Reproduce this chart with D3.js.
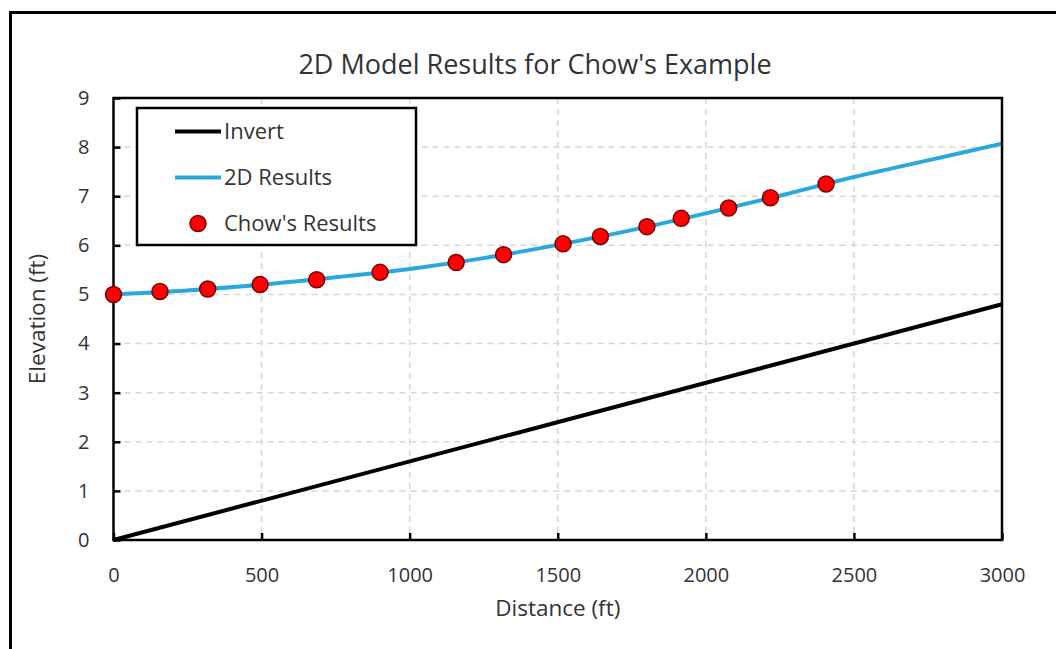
<!DOCTYPE html>
<html lang="en">
<head>
    <meta charset="UTF-8">
    <title>2D Model Results for Chow's Example</title>
    <script src="https://cdn.jsdelivr.net/npm/d3@7"></script>
    <style>
        body { margin: 0; background: #fff; }
        text { font-family: "Open Sans", "Noto Sans", sans-serif; fill: #333; }
    </style>
</head>
<body>
<svg width="1056" height="649"></svg>
<script>
    // data
    var invertDist = [0, 3000];
    var invertElev = [0, 4.8];

    var resultDist = [0, 250, 500, 750, 1000, 1250, 1500, 1750, 2000, 2250, 2500, 2750, 3000];
    var resultElev = [5.00, 5.08, 5.20, 5.35, 5.52, 5.74, 6.01, 6.31, 6.65, 7.01, 7.39, 7.73, 8.07];

    var chowDist = [0, 157, 318, 495, 686, 900, 1157, 1317, 1518, 1644, 1801, 1917, 2077, 2218, 2406];
    var chowElev = [5.00, 5.06, 5.11, 5.20, 5.30, 5.45, 5.65, 5.81, 6.03, 6.18, 6.38, 6.55, 6.76, 6.97, 7.25];

    var xTicks = [0, 500, 1000, 1500, 2000, 2500, 3000];
    var yTicks = [0, 1, 2, 3, 4, 5, 6, 7, 8, 9];

    var legendNames = ["Invert", "2D Results", "Chow's Results"];

    var svg = d3.select('svg'),
        plot = {left: 113.5, top: 98, right: 1002, bottom: 540};

    var x = d3.scaleLinear().domain([0, 3000]).range([plot.left, plot.right]);
    var y = d3.scaleLinear().domain([0, 9]).range([plot.bottom, plot.top]);

    // outer chart border (runs off the right and bottom of the picture)
    svg.append('rect')
        .attr('x', 10.5).attr('y', 12.5)
        .attr('width', 1100).attr('height', 700)
        .attr('fill', '#fff')
        .attr('stroke', '#000')
        .attr('stroke-width', 3);

    // grid
    var grid = svg.append('g')
        .attr('stroke', '#d6d6d6')
        .attr('stroke-width', 1.5)
        .attr('stroke-dasharray', '6,5');
    grid.selectAll('.gx')
        .data(xTicks.slice(1, -1))
        .enter().append('line')
        .attr('x1', function(d){ return x(d); }).attr('x2', function(d){ return x(d); })
        .attr('y1', plot.top).attr('y2', plot.bottom);
    grid.selectAll('.gy')
        .data(yTicks.slice(1, -1))
        .enter().append('line')
        .attr('x1', plot.left).attr('x2', plot.right)
        .attr('y1', function(d){ return y(d); }).attr('y2', function(d){ return y(d); });

    // axes, ticks pointing inwards
    var xAxis = svg.append('g')
        .attr('transform', 'translate(0,' + plot.bottom + ')')
        .call(d3.axisBottom(x).tickValues(xTicks).tickFormat(d3.format('d'))
            .tickSizeInner(-7).tickSizeOuter(0).tickPadding(28));
    var yAxis = svg.append('g')
        .attr('transform', 'translate(' + plot.left + ',0)')
        .call(d3.axisLeft(y).tickValues(yTicks).tickSizeInner(-7).tickSizeOuter(0).tickPadding(24));
    [xAxis, yAxis].forEach(function(a){
        a.select('.domain').remove();
        a.selectAll('line').attr('stroke', '#000').attr('stroke-width', 2.5);
        a.selectAll('text')
            .attr('font-family', '"Open Sans", sans-serif')
            .attr('font-size', '20px')
            .attr('fill', '#333');
    });

    // lines
    var line = d3.line()
        .x(function(d){ return x(d[0]); })
        .y(function(d){ return y(d[1]); })
        .curve(d3.curveMonotoneX);

    svg.append('path')
        .datum(d3.zip(invertDist, invertElev))
        .attr('d', line)
        .attr('fill', 'none')
        .attr('stroke', '#000')
        .attr('stroke-width', 4);

    svg.append('path')
        .datum(d3.zip(resultDist, resultElev))
        .attr('d', line)
        .attr('fill', 'none')
        .attr('stroke', '#29a9db')
        .attr('stroke-width', 4);

    // plot area frame
    svg.append('rect')
        .attr('x', plot.left).attr('y', plot.top)
        .attr('width', plot.right - plot.left)
        .attr('height', plot.bottom - plot.top)
        .attr('fill', 'none')
        .attr('stroke', '#000')
        .attr('stroke-width', 2.5);

    // points
    svg.append('g')
        .selectAll('circle')
        .data(d3.zip(chowDist, chowElev))
        .enter().append('circle')
        .attr('cx', function(d){ return x(d[0]); })
        .attr('cy', function(d){ return y(d[1]); })
        .attr('r', 8)
        .attr('fill', '#ff0000')
        .attr('stroke', '#7a0000')
        .attr('stroke-width', 1.5);

    // titles
    svg.append('text')
        .attr('x', 535).attr('y', 65)
        .attr('dy', '0.35em')
        .attr('text-anchor', 'middle')
        .attr('font-size', '27px')
        .text("2D Model Results for Chow's Example");
    svg.append('text')
        .attr('x', (plot.left + plot.right) / 2).attr('y', 608)
        .attr('dy', '0.35em')
        .attr('text-anchor', 'middle')
        .attr('font-size', '22.5px')
        .text('Distance (ft)');
    svg.append('text')
        .attr('transform', 'translate(37,' + (plot.top + plot.bottom) / 2 + ') rotate(-90)')
        .attr('dy', '0.35em')
        .attr('text-anchor', 'middle')
        .attr('font-size', '22.5px')
        .text('Elevation (ft)');

    // legend
    var legend = svg.append('g').attr('transform', 'translate(137,108)');
    legend.append('rect')
        .attr('width', 279).attr('height', 137)
        .attr('fill', '#fff')
        .attr('stroke', '#000')
        .attr('stroke-width', 2.5);
    var item = legend.selectAll('.item')
        .data(legendNames)
        .enter().append('g')
        .attr('transform', function(d, i){ return 'translate(0,' + (23.5 + 46 * i) + ')'; });
    item.filter(function(d, i){ return i < 2; })
        .append('line')
        .attr('x1', 38).attr('x2', 84)
        .attr('stroke', function(d, i){ return i === 0 ? '#000' : '#29a9db'; })
        .attr('stroke-width', 4);
    item.filter(function(d, i){ return i === 2; })
        .append('circle')
        .attr('cx', 61).attr('r', 8)
        .attr('fill', '#ff0000')
        .attr('stroke', '#7a0000')
        .attr('stroke-width', 1.5);
    item.append('text')
        .attr('x', 87)
        .attr('dy', '0.35em')
        .attr('font-size', '22px')
        .text(function(d){ return d; });
</script>
</body>
</html>
